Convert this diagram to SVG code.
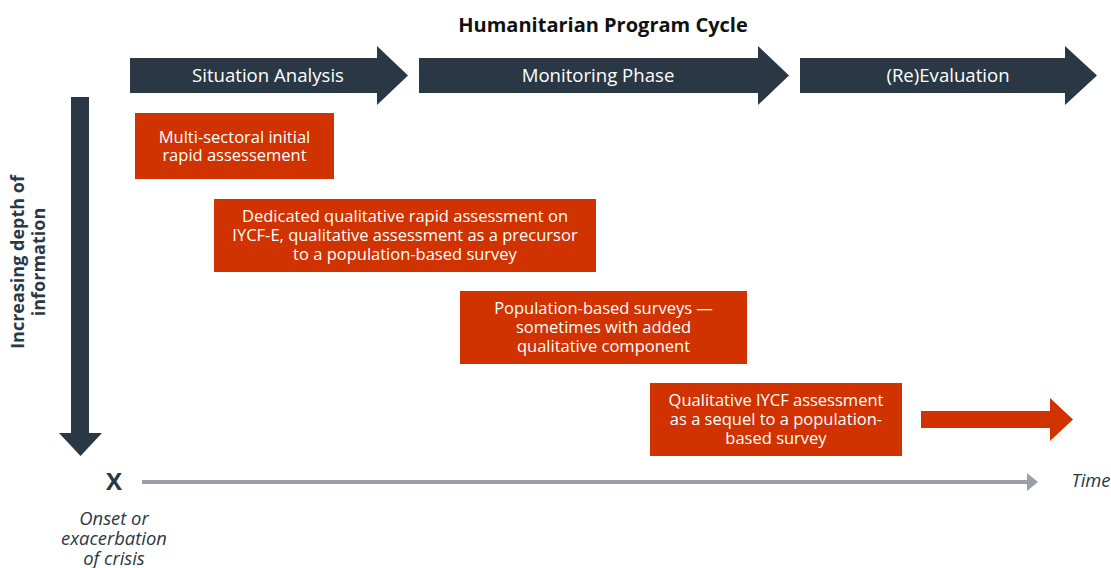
<svg xmlns="http://www.w3.org/2000/svg" width="1111" height="568" viewBox="0 0 1111 568">
  <style>
    text { font-family: "Open Sans", "Noto Sans", "Liberation Sans", sans-serif; }
    .phase { fill: #2a3744; }
    .phase-label { fill: #ffffff; font-size: 18.6px; text-anchor: middle; }
    .box { fill: #d03200; }
    .box-label { fill: #ffffff; font-size: 16.5px; text-anchor: middle; }
    .title { fill: #111111; font-size: 20px; font-weight: bold; text-anchor: middle; }
    .axis-label { fill: #2a3744; font-size: 18.4px; font-style: italic; text-anchor: middle; }
    .depth { fill: #2a3744; font-size: 18px; font-weight: bold; text-anchor: middle; }
  </style>

  <text class="title" x="603" y="32">Humanitarian Program Cycle</text>

  <!-- Phase arrows -->
  <g id="phase-situation">
    <polygon class="phase" points="130,58 377,58 377,46 408,75.5 377,105 377,93 130,93"/>
    <text class="phase-label" x="268" y="82">Situation Analysis</text>
  </g>
  <g id="phase-monitoring">
    <polygon class="phase" points="419,58 758,58 758,46 789,75.5 758,105 758,93 419,93"/>
    <text class="phase-label" x="598" y="82">Monitoring Phase</text>
  </g>
  <g id="phase-evaluation">
    <polygon class="phase" points="800,58 1065,58 1065,46 1097,75.5 1065,105 1065,93 800,93"/>
    <text class="phase-label" x="948" y="82">(Re)Evaluation</text>
  </g>

  <!-- Assessment boxes -->
  <g id="box-initial">
    <rect class="box" x="135" y="113" width="199" height="66"/>
    <text class="box-label" x="234.5" y="143">Multi-sectoral initial</text>
    <text class="box-label" x="234.5" y="161">rapid assessement</text>
  </g>
  <g id="box-dedicated">
    <rect class="box" x="214" y="199" width="382" height="73"/>
    <text class="box-label" x="405" y="222">Dedicated qualitative rapid assessment on</text>
    <text class="box-label" x="405" y="241">IYCF-E, qualitative assessment as a precursor</text>
    <text class="box-label" x="405" y="260">to a population-based survey</text>
  </g>
  <g id="box-population">
    <rect class="box" x="460" y="291" width="287" height="73"/>
    <text class="box-label" x="603.5" y="314">Population-based surveys —</text>
    <text class="box-label" x="603.5" y="333">sometimes with added</text>
    <text class="box-label" x="603.5" y="352">qualitative component</text>
  </g>
  <g id="box-sequel">
    <rect class="box" x="650" y="383" width="252" height="73"/>
    <text class="box-label" x="776" y="406">Qualitative IYCF assessment</text>
    <text class="box-label" x="776" y="425">as a sequel to a population-</text>
    <text class="box-label" x="776" y="444">based survey</text>
  </g>

  <!-- Axes and connectors -->
  <g id="connectors">
    <polygon id="depth-arrow" class="phase" points="71,97 89,97 89,433 102,433 80.5,456 59,433 71,433"/>
    <polygon id="continue-arrow" class="box" points="921,411 1050,411 1050,398 1073,419.5 1050,441 1050,428 921,428"/>
    <polygon id="time-arrow" fill="#9aa0a6" points="142,480 1027,480 1027,473 1038,482 1027,491 1027,484 142,484"/>
  </g>

  <g id="depth-label">
    <text class="depth" transform="translate(24,262) rotate(-90)">Increasing depth of</text>
    <text class="depth" transform="translate(45,262) rotate(-90)">information</text>
  </g>

  <g id="onset">
    <text x="114" y="490" fill="#2a3744" font-size="24" font-weight="bold" text-anchor="middle">X</text>
    <text class="axis-label" x="114" y="525">Onset or</text>
    <text class="axis-label" x="114" y="545">exacerbation</text>
    <text class="axis-label" x="114" y="565">of crisis</text>
  </g>
  <text id="time-label" class="axis-label" x="1091" y="487">Time</text>
</svg>
